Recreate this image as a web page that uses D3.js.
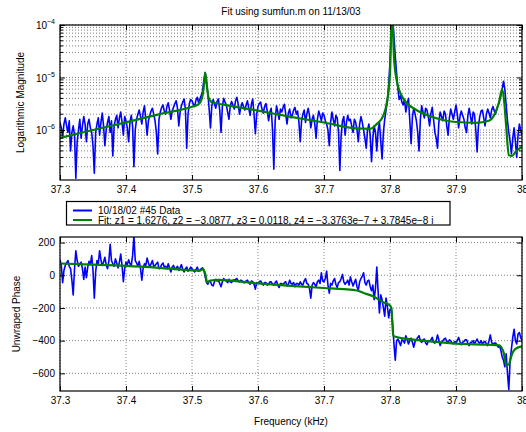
<!DOCTYPE html>
<html>
<head>
<meta charset="utf-8">
<script src="https://cdn.jsdelivr.net/npm/d3@7"></script>
<style>
  body { margin: 0; background: #fff; }
  svg text { font-family: "Liberation Sans", Arial, Helvetica, sans-serif; }
</style>
</head>
<body>
<div id="chart"></div>
<script>
// --- Data ---
// measured samples: 37.300 .. 38.000 kHz, every 0.002 kHz
const freqStart = 37.3;
const freqStep = 0.002;

// magnitude of the measured data, in units of 1e-6
const magData = [
  1.4, 1.1, 0.75, 1.3, 1.7, 1.2, 0.9, 1.5, 0.4, 0.9, 1.2, 0.8, 0.12, 0.6, 1.0, 1.6, 0.7, 1.2, 1.8, 1.3,
  0.6, 1.3, 1.6, 1.1, 0.9, 0.5, 0.15, 0.9, 1.3, 1.7, 0.8, 1.4, 2.1, 1.2, 0.5, 1.0, 1.4, 1.8, 0.9, 1.5,
  0.32, 1.2, 1.6, 1.9, 1.1, 1.7, 2.2, 1.4, 0.8, 1.8, 1.5, 1.1, 0.6, 1.4, 1.9, 1.2, 0.2, 1.0, 1.6, 2.0,
  2.4, 1.8, 1.3, 2.2, 2.9, 1.6, 0.8, 1.5, 1.9, 2.3, 2.6, 2.0, 1.5, 0.9, 0.35, 1.6, 2.2, 2.7, 3.0, 2.3,
  2.0, 2.8, 3.3, 2.4, 1.6, 2.3, 2.7, 3.2, 3.6, 2.6, 1.2, 2.2, 2.9, 3.4, 3.9, 2.5, 0.45, 2.0, 3.2, 3.8,
  3.6, 3.1, 2.8, 3.7, 4.2, 3.3, 3.9, 4.6, 5.5, 9.0, 12.5, 8.0, 5.0, 2.5, 1.1, 2.9, 3.8, 3.2, 2.6, 3.5,
  3.9, 2.4, 0.9, 2.8, 4.0, 3.4, 3.0, 2.2, 1.6, 2.9, 3.5, 3.0, 2.5, 3.6, 4.2, 3.1, 2.0, 2.7, 3.3, 2.8,
  2.4, 3.0, 3.6, 2.6, 1.9, 3.1, 3.9, 2.0, 0.85, 2.0, 2.8, 3.2, 3.4, 2.5, 2.1, 2.8, 3.2, 2.3, 1.5, 2.2,
  2.6, 1.0, 0.18, 1.5, 2.9, 2.2, 1.6, 2.5, 2.2, 2.7, 3.1, 2.0, 1.3, 2.1, 2.5, 1.7, 1.9, 2.4, 2.7, 2.0,
  2.3, 1.4, 0.6, 1.5, 2.0, 2.4, 1.4, 2.0, 2.6, 1.9, 1.1, 1.6, 1.9, 1.3, 0.7, 1.6, 2.3, 1.9, 1.5, 2.1,
  1.9, 1.5, 1.3, 1.0, 0.5, 1.4, 2.2, 1.6, 1.2, 1.9, 1.7, 0.9, 0.17, 0.8, 1.5, 1.8, 0.8, 1.4, 1.9, 1.5,
  1.6, 1.2, 0.9, 1.6, 1.4, 1.0, 0.6, 1.3, 1.8, 1.4, 1.0, 0.7, 0.45, 1.0, 1.3, 0.8, 0.25, 0.7, 1.2, 0.9,
  0.4, 1.0, 1.4, 0.6, 0.28, 0.9, 1.6, 2.4, 3.5, 7.0, 20, 80, 150, 60, 25, 12, 6.0, 3.8, 4.5, 3.4,
  3.0, 3.8, 2.2, 3.1, 4.0, 1.5, 0.55, 1.8, 2.6, 2.0, 1.5, 0.9, 0.4, 1.6, 2.9, 2.2, 1.7, 2.6, 2.4, 1.8,
  1.2, 2.1, 2.7, 1.6, 0.9, 0.7, 0.45, 1.4, 2.2, 1.8, 1.5, 2.3, 2.0, 1.2, 0.8, 1.7, 2.5, 2.0, 1.6, 2.2,
  3.0, 2.0, 1.1, 1.8, 2.3, 1.9, 1.6, 1.1, 0.9, 1.9, 2.6, 1.8, 1.3, 2.2, 2.0, 1.0, 0.38, 1.2, 1.8, 2.3,
  2.4, 1.7, 1.2, 2.0, 2.5, 2.1, 1.7, 2.4, 2.8, 2.3, 2.0, 2.6, 3.0, 3.6, 4.5, 6.0, 8.5, 6.0, 3.0, 1.5,
  0.9, 0.6, 0.35, 0.7, 1.1, 0.6, 0.3, 0.8, 1.3, 1.0, 0.8
];

// unwrapped phase of the measured data
const phaseData = [
  95, 60, -45, 30, 60, 75, 90, 55, 40, -30, -120, 40, 150, 90, 55, 70, 80, 40, -25, 50,
  -15, 50, 85, 65, 120, 30, -140, 20, 90, 70, 150, 95, 60, 80, 110, 65, 40, 85, 190, 90,
  70, 55, 100, 75, 45, 80, 130, 60, -40, 40, 80, 65, 95, 70, 60, 120, 240, 90, 75, 55,
  85, 40, -30, 45, 70, 60, 105, 75, 50, 70, 90, 55, 60, 70, 80, 40, 45, 65, 75, 50,
  55, 40, 70, 45, 20, 50, 60, 35, 45, 55, 30, 45, 65, 35, 20, 40, 50, 25, 35, 50,
  40, 30, 20, 35, 50, 25, 30, 40, 45, 30, -10, -45, -55, -35, -40, -60, -65, -40, -25, -35,
  -30, -50, -70, -40, -20, -30, -35, -45, -25, -40, -45, -30, -30, -25, -20, -35, -40, -30, -35, -45,
  -45, -35, -30, -45, -55, -35, -40, -55, -85, -45, -50, -40, -35, -50, -60, -45, -45, -60, -55, -40,
  -40, -55, -60, -45, -35, -60, -75, -50, -50, -60, -45, -40, -65, -55, -30, -50, -55, -45, -70, -50,
  -50, -60, -40, -55, -60, -35, -20, -50, -55, -80, -140, -60, -45, -55, -70, -40, -30, -50, 15, -35,
  -40, -20, 25, -60, -110, -50, -60, -35, -20, -55, -75, -45, -40, -20, 5, -40, -55, -45, -30, -60,
  -10, -40, -65, -45, -25, -70, -90, -40, -20, -5, 15, -45, -60, -35, -30, -70, -95, -60, -150, -80,
  50, -100, -230, -120, -150, -200, -250, -140, -190, -260, -210, -200, -300, -420, -520, -400, -390, -410, -430, -395,
  -400, -415, -370, -395, -420, -400, -385, -410, -440, -405, -395, -380, -370, -400, -410, -395, -390, -415, -425, -400,
  -405, -395, -380, -410, -415, -400, -365, -395, -430, -410, -400, -390, -385, -405, -410, -395, -400, -415, -420, -405,
  -410, -400, -380, -405, -425, -410, -405, -395, -395, -415, -430, -410, -410, -400, -420, -405, -390, -410, -415, -400,
  -420, -410, -405, -420, -430, -400, -365, -410, -425, -415, -415, -425, -440, -430, -460, -500, -520, -560, -480, -600,
  -700, -520, -450, -380, -330, -400, -420, -360, -350, -380, -400
];

// fitted model (sumfun.m), magnitude in units of 1e-6
const fitMagFreq = [37.30, 37.35, 37.40, 37.45, 37.50, 37.51, 37.515, 37.518, 37.520, 37.522,
  37.525, 37.53, 37.55, 37.60, 37.65, 37.70, 37.75, 37.77, 37.78, 37.79,
  37.795, 37.80, 37.803, 37.806, 37.81, 37.82, 37.84, 37.86, 37.90, 37.93,
  37.95, 37.96, 37.965, 37.970, 37.973, 37.976, 37.980, 37.985, 37.99, 38.0];
const fitMag = [0.71, 1.0, 1.40, 1.99, 2.78, 3.1, 4.0, 7.0, 12.3, 8.0,
  4.2, 3.4, 3.0, 2.34, 1.78, 1.39, 1.07, 1.05, 1.3, 1.9,
  3.2, 12, 200, 25, 9, 4.0, 2.4, 1.85, 1.42, 1.37,
  1.5, 2.2, 3.3, 6.0, 3.5, 1.2, 0.33, 0.32, 0.38, 0.48];

const fitPhaseFreq = [37.30, 37.35, 37.40, 37.45, 37.50, 37.512, 37.517, 37.520, 37.523, 37.528,
  37.54, 37.60, 37.65, 37.70, 37.73, 37.75, 37.76, 37.775, 37.79, 37.80,
  37.802, 37.805, 37.81, 37.82, 37.85, 37.90, 37.95, 37.965, 37.972, 37.976,
  37.980, 37.985, 37.99, 38.0];
const fitPhase = [72, 65, 57, 45, 30, 28, 38, 10, -42, -32,
  -28, -50, -65, -78, -85, -93, -108, -130, -165, -185,
  -200, -370, -378, -386, -400, -418, -425, -428, -470, -550,
  -545, -480, -450, -435];

const xTicks = [37.3, 37.4, 37.5, 37.6, 37.7, 37.8, 37.9, 38];
const magTicks = [1e-4, 1e-5, 1e-6];
const magTickExp = ["\u22124", "\u22125", "\u22126"];
const phaseTicks = [-600, -400, -200, 0, 200];

const MAG_UNIT = 1e-6;
const legendLabels = [
  "10/18/02 #45 Data",
  "Fit: z1 = 1.6276, z2 = \u22123.0877, z3 = 0.0118, z4 = \u22123.3763e\u22127 + 3.7845e\u22128 i"
];

// --- Layout ---
const W = 526, H = 432;
const left = 60, right = 522;
const top1 = 25, bot1 = 180;
const top2 = 237, bot2 = 391;
const BLUE = "#0000ff", GREEN = "#008000";
const FONT = 10;

const svg = d3.select("#chart").append("svg")
  .attr("width", W).attr("height", H);

const x = d3.scaleLinear().domain([37.3, 38]).range([left, right]);
const yMag = d3.scaleLog().domain([1.116e-7, 1e-4]).range([bot1, top1]);
const yPh = d3.scaleLinear().domain([-708, 234]).range([bot2, top2]);

const measured = magData.map((m, i) => ({ f: freqStart + i * freqStep, m: m * MAG_UNIT, p: phaseData[i] }));

// --- clip paths ---
const defs = svg.append("defs");
defs.append("clipPath").attr("id", "clipTop").append("rect")
  .attr("x", left).attr("y", top1).attr("width", right - left).attr("height", bot1 - top1);
defs.append("clipPath").attr("id", "clipBot").append("rect")
  .attr("x", left).attr("y", top2).attr("width", right - left).attr("height", bot2 - top2);

// --- grid helper (dotted, MATLAB style) ---
function grid(g, yVals, yScale, top, bot) {
  const st = sel => sel.attr("stroke", "#000").attr("stroke-width", 0.5)
    .attr("stroke-dasharray", "1,2").attr("fill", "none");
  g.selectAll(".gx").data(xTicks).join("line").attr("class", "gx")
    .attr("x1", d => x(d)).attr("x2", d => x(d)).attr("y1", top).attr("y2", bot).call(st);
  g.selectAll(".gy").data(yVals).join("line").attr("class", "gy")
    .attr("x1", left).attr("x2", right).attr("y1", d => yScale(d)).attr("y2", d => yScale(d)).call(st);
}

// --- axes helper: ticks inside on all four sides, box frame ---
function frame(g, yScale, yVals, top, bot, yFormat) {
  const style = a => a.call(s => s.select(".domain").remove())
    .call(s => s.selectAll("line").attr("stroke", "#000"))
    .call(s => s.selectAll("text").attr("font-size", FONT).attr("fill", "#000")
      .attr("font-family", "'Liberation Sans', Arial, Helvetica, sans-serif"));
  g.append("g").attr("transform", `translate(0,${bot})`)
    .call(d3.axisBottom(x).tickValues(xTicks).tickSize(-5).tickPadding(6).tickFormat(d3.format("~g")))
    .call(style);
  g.append("g").attr("transform", `translate(0,${top})`)
    .call(d3.axisTop(x).tickValues(xTicks).tickSize(-5).tickFormat(""))
    .call(style);
  g.append("g").attr("transform", `translate(${left},0)`)
    .call(d3.axisLeft(yScale).tickValues(yVals).tickSize(-5).tickPadding(5).tickFormat(yFormat || ""))
    .call(style);
  g.append("g").attr("transform", `translate(${right},0)`)
    .call(d3.axisRight(yScale).tickValues(yVals).tickSize(-5).tickFormat(""))
    .call(style);
  g.append("rect").attr("x", left).attr("y", top).attr("width", right - left).attr("height", bot - top)
    .attr("fill", "none").attr("stroke", "#000").attr("stroke-width", 1.2);
}

// ================= Top: log magnitude =================
const gTop = svg.append("g");
const [mLo, mHi] = yMag.domain();
const minorMag = [];
for (let e = -7; e < -4; e++) {
  for (let k = 2; k <= 9; k++) {
    const v = k * Math.pow(10, e);
    if (v > mLo && v < mHi) minorMag.push(v);
  }
}
grid(gTop, magTicks.concat(minorMag), yMag, top1, bot1);

gTop.append("path").datum(measured)
  .attr("clip-path", "url(#clipTop)")
  .attr("fill", "none").attr("stroke", BLUE).attr("stroke-width", 1.6).attr("stroke-linejoin", "round")
  .attr("d", d3.line().x(d => x(d.f)).y(d => yMag(d.m)));

gTop.append("path").datum(fitMagFreq.map((f, i) => ({ f, m: fitMag[i] * MAG_UNIT })))
  .attr("clip-path", "url(#clipTop)")
  .attr("fill", "none").attr("stroke", GREEN).attr("stroke-width", 2.2)
  .attr("d", d3.line().x(d => x(d.f)).y(d => yMag(d.m)).curve(d3.curveMonotoneX));

frame(gTop, yMag, magTicks, top1, bot1, null);

// minor ticks on the log axis (left and right)
gTop.selectAll(".mt").data(minorMag).join("line").attr("class", "mt")
  .attr("x1", left).attr("x2", left + 3).attr("y1", d => yMag(d)).attr("y2", d => yMag(d))
  .attr("stroke", "#000");
gTop.selectAll(".mtr").data(minorMag).join("line").attr("class", "mtr")
  .attr("x1", right - 3).attr("x2", right).attr("y1", d => yMag(d)).attr("y2", d => yMag(d))
  .attr("stroke", "#000");

// "10^-n" tick labels
const magLab = gTop.selectAll(".ml").data(magTicks).join("text").attr("class", "ml")
  .attr("x", left - 5).attr("y", d => yMag(d) + 4)
  .attr("text-anchor", "end").attr("font-size", FONT);
magLab.append("tspan").text("10");
magLab.append("tspan").attr("dy", -5).attr("font-size", 7).text((d, i) => magTickExp[i]);

gTop.append("text").attr("x", (left + right) / 2).attr("y", 15)
  .attr("text-anchor", "middle").attr("font-size", FONT)
  .text("Fit using sumfun.m on 11/13/03");

gTop.append("text").attr("transform", `translate(24,${(top1 + bot1) / 2}) rotate(-90)`)
  .attr("text-anchor", "middle").attr("font-size", FONT)
  .text("Logarithmic Magnitude");

// ================= Bottom: unwrapped phase =================
const gBot = svg.append("g");
grid(gBot, phaseTicks, yPh, top2, bot2);

gBot.append("path").datum(measured)
  .attr("clip-path", "url(#clipBot)")
  .attr("fill", "none").attr("stroke", BLUE).attr("stroke-width", 1.6).attr("stroke-linejoin", "round")
  .attr("d", d3.line().x(d => x(d.f)).y(d => yPh(d.p)));

gBot.append("path").datum(fitPhaseFreq.map((f, i) => ({ f, p: fitPhase[i] })))
  .attr("clip-path", "url(#clipBot)")
  .attr("fill", "none").attr("stroke", GREEN).attr("stroke-width", 2.2)
  .attr("d", d3.line().x(d => x(d.f)).y(d => yPh(d.p)).curve(d3.curveMonotoneX));

frame(gBot, yPh, phaseTicks, top2, bot2, d3.format("d"));

gBot.append("text").attr("transform", `translate(20,${(top2 + bot2) / 2}) rotate(-90)`)
  .attr("text-anchor", "middle").attr("font-size", FONT)
  .text("Unwraped Phase");

gBot.append("text").attr("x", (left + right) / 2).attr("y", 425)
  .attr("text-anchor", "middle").attr("font-size", FONT)
  .text("Frequency (kHz)");

// ================= Legend =================
const leg = svg.append("g");
leg.append("rect").attr("x", 66.5).attr("y", 201.5).attr("width", 383.5).attr("height", 23.5)
  .attr("fill", "#fff").attr("stroke", "#000").attr("stroke-width", 1.2);
const legRows = leg.selectAll(".lr").data(legendLabels).join("g").attr("class", "lr")
  .attr("transform", (d, i) => `translate(0,${210.5 + i * 9.5})`);
legRows.append("line").attr("x1", 73).attr("x2", 92).attr("y1", 0).attr("y2", 0)
  .attr("stroke", (d, i) => i === 0 ? BLUE : GREEN).attr("stroke-width", 2);
legRows.append("text").attr("x", 98).attr("y", 3.5).attr("font-size", FONT).text(d => d);
</script>
</body>
</html>
